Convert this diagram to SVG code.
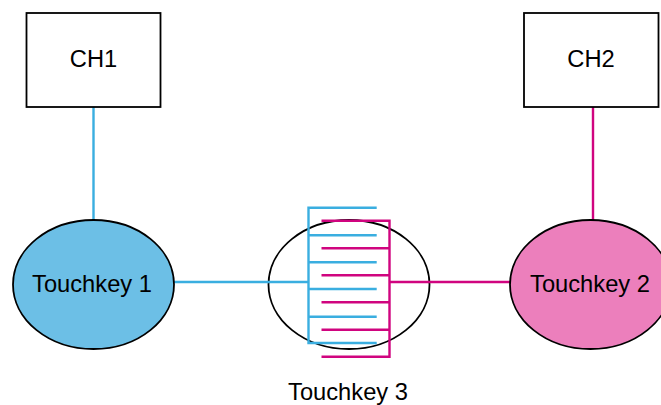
<svg xmlns="http://www.w3.org/2000/svg" width="661" height="405" viewBox="0 0 661 405">
<style>
.n{stroke:#000;stroke-width:1.8}
.t{font-family:"Liberation Sans",Arial,sans-serif;font-size:23.7px;fill:#000;text-anchor:middle}
.b{fill:none;stroke:#3aaee0;stroke-width:2.4}
.p{fill:none;stroke:#d0047f;stroke-width:2.4}
</style>
<rect width="661" height="405" fill="#fff"/>
<g id="touchkey3"><ellipse class="n" cx="349" cy="284.5" rx="80.5" ry="64.5" fill="#fff"/><text class="t" x="348" y="400">Touchkey 3</text></g>
<g id="connectors">
<path class="b" d="M93.5 107V220M174 282H308.5"/>
<path class="p" d="M593 107V220M390 282H510"/>
<path class="p" d="M321.5 220.7H389.5V356.7H321.5M321.5 248.3H389.5M321.5 275.3H389.5M321.5 302.3H389.5M321.5 329.7H389.5"/>
<path class="b" d="M376.700 207.700H308.500V343H376.700M308.500 235.300H376.700M308.500 262.300H376.700M308.500 289H376.700M308.500 316.700H376.700"/>
</g>
<g id="ch1"><rect class="n" x="26.5" y="13" width="134" height="94" fill="#fff"/><text class="t" x="93.5" y="67">CH1</text></g>
<g id="ch2"><rect class="n" x="524" y="13" width="134.500" height="94" fill="#fff"/><text class="t" x="591" y="67">CH2</text></g>
<g id="touchkey1"><ellipse class="n" cx="93.500" cy="284.500" rx="80.500" ry="64.500" fill="#6cbfe6"/><text class="t" x="92" y="292">Touchkey 1</text></g>
<g id="touchkey2"><ellipse class="n" cx="590.500" cy="284.500" rx="80.500" ry="64.500" fill="#ec7fbc"/><text class="t" x="590" y="292">Touchkey 2</text></g>
</svg>
